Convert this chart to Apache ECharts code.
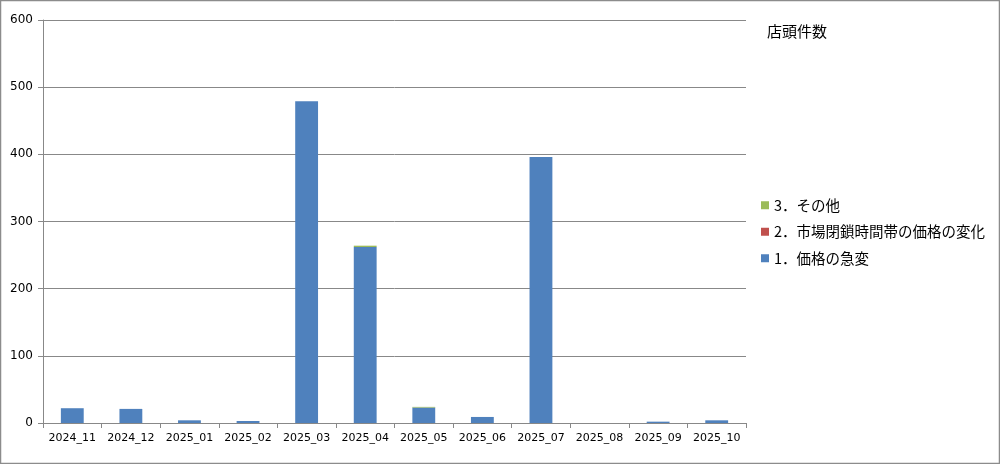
<!DOCTYPE html>
<html>
<head>
<meta charset="utf-8">
<script src="https://cdn.jsdelivr.net/npm/echarts@6/dist/echarts.min.js"></script>
<style>
  html, body { margin: 0; padding: 0; background: #fff; }
  #chart { width: 1000px; height: 464px; }
</style>
</head>
<body>
<div id="chart"></div>
<script>
// 月別 店頭件数
var months = ["2024_11", "2024_12", "2025_01", "2025_02", "2025_03", "2025_04",
  "2025_05", "2025_06", "2025_07", "2025_08", "2025_09", "2025_10"];
var suddenChange = [22, 21, 4, 3, 479, 262, 23, 9, 396, 0, 2, 4];
var closedHours = [0, 0, 0, 0, 0, 0, 0, 0, 0, 0, 0, 0];
var others = [0, 0, 0, 0, 0, 2, 1, 0, 0, 0, 0, 0];
var yTicks = [0, 100, 200, 300, 400, 500, 600];

var names = ["1．価格の急変", "2．市場閉鎖時間帯の価格の変化", "3．その他"];
var colors = ["#4f81bd", "#c0504d", "#9bbb59"];
var font = "'DejaVu Sans', 'Noto Sans CJK JP', sans-serif";

var chart = echarts.init(document.getElementById("chart"));
chart.setOption({
  animation: false,
  textStyle: { fontFamily: font },
  graphic: [{
    type: "rect",
    shape: { x: 0.5, y: 0.5, width: 999, height: 463 },
    style: { fill: "none", stroke: "#8c8c8c", lineWidth: 1.5 },
    silent: true
  }],
  title: {
    text: "店頭件数",
    left: 762,
    top: 19,
    textStyle: { fontSize: 15, fontWeight: "normal", color: "#000", fontFamily: "'Noto Sans CJK JP', sans-serif" }
  },
  legend: {
    orient: "vertical",
    left: 756,
    top: 193,
    itemWidth: 8,
    itemHeight: 8,
    itemGap: 12,
    icon: "rect",
    data: [names[2], names[1], names[0]],
    textStyle: { fontSize: 14.5, color: "#000", fontFamily: "'Noto Sans CJK JP', sans-serif" }
  },
  grid: { left: 43, right: 254, top: 20, bottom: 41 },
  xAxis: {
    type: "category",
    data: months,
    axisLine: { lineStyle: { color: "#888", width: 1 } },
    axisTick: { show: true, length: 5, lineStyle: { color: "#888" } },
    axisLabel: { color: "#000", fontSize: 11, margin: 10, interval: 0 }
  },
  yAxis: {
    type: "value",
    min: yTicks[0],
    max: yTicks[yTicks.length - 1],
    interval: 100,
    axisLine: { show: true, lineStyle: { color: "#888", width: 1 } },
    axisTick: { show: true, length: 5, lineStyle: { color: "#888" } },
    splitLine: { lineStyle: { color: "#888", width: 1 } },
    axisLabel: { color: "#000", fontSize: 12, margin: 10 }
  },
  series: [
    { name: names[0], type: "bar", stack: "total", data: suddenChange, barWidth: "39%", itemStyle: { color: colors[0] } },
    { name: names[1], type: "bar", stack: "total", data: closedHours, itemStyle: { color: colors[1] } },
    { name: names[2], type: "bar", stack: "total", data: others, itemStyle: { color: colors[2] } }
  ]
});
</script>
</body>
</html>
